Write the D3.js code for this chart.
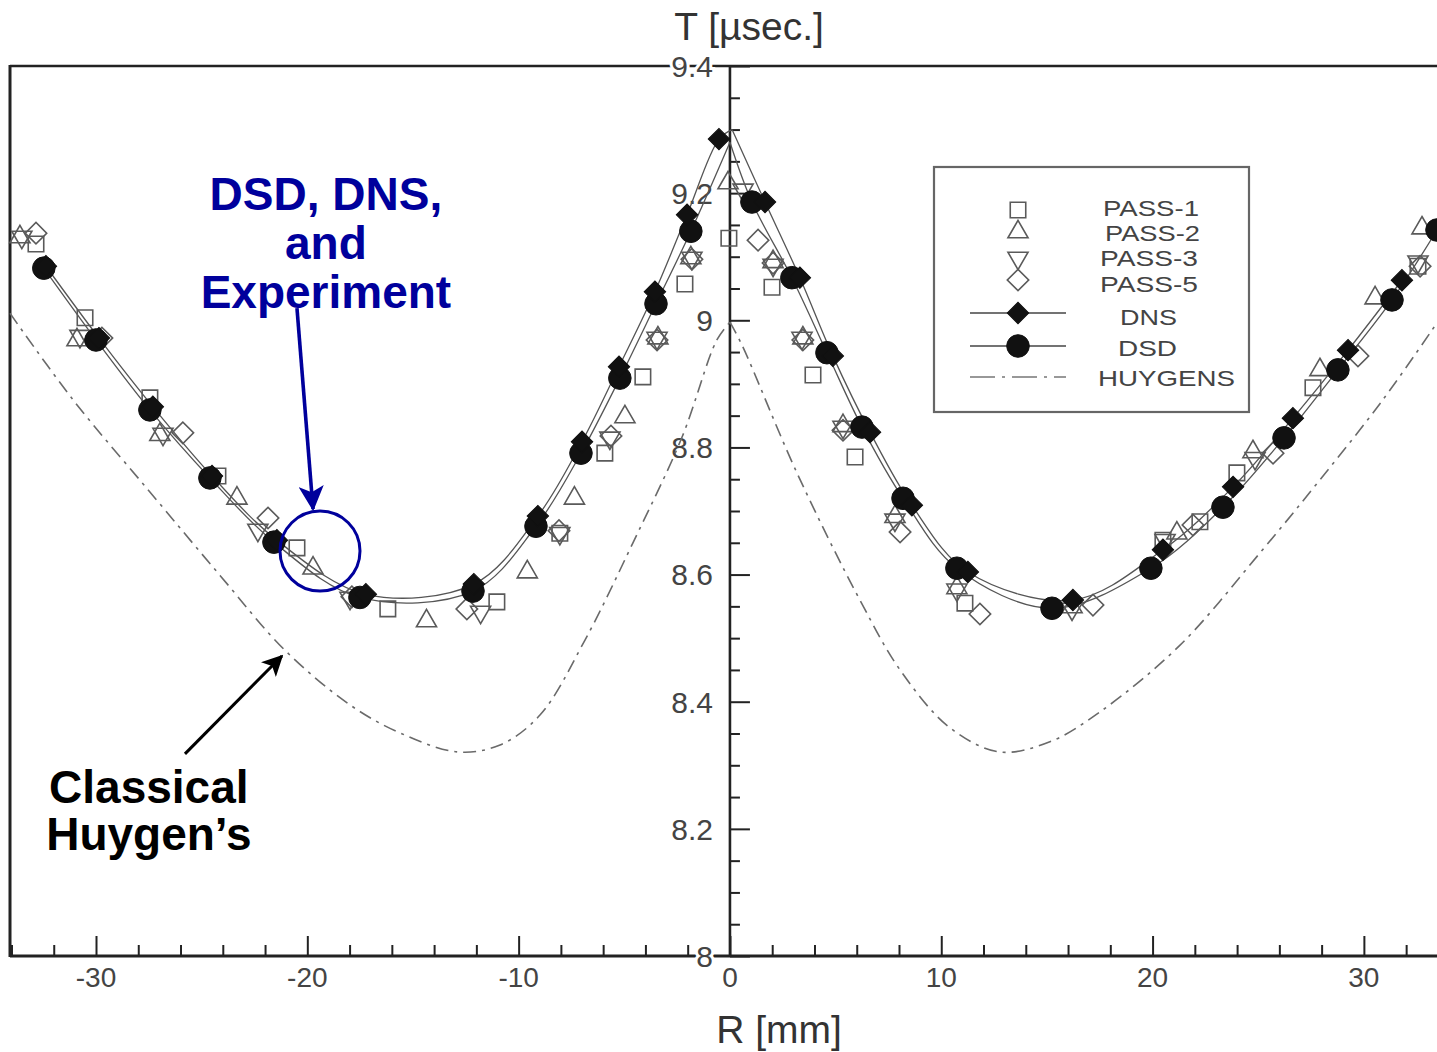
<!DOCTYPE html>
<html>
<head>
<meta charset="utf-8">
<script src="https://cdn.jsdelivr.net/npm/d3@7"></script>
<style>
  html, body { margin: 0; padding: 0; background: #fff; overflow: hidden; }
  svg text { font-family: "Liberation Sans", Arial, Helvetica, sans-serif; }
</style>
</head>
<body>
<svg id="chart" width="1437" height="1052"></svg>
<script>
// Detonation arrival time T [µs] against radial position R [mm]

// Experimental passes (R, T)
const pass1 = [
  [-32.84, 9.120], [-30.52, 9.004], [-27.45, 8.878], [-24.23, 8.755], [-20.49, 8.642],
  [-16.19, 8.546], [-11.03, 8.557], [-8.05, 8.665], [-5.92, 8.791], [-4.12, 8.911],
  [-2.13, 9.057], [-0.05, 9.129],
  [1.99, 9.052], [3.93, 8.914], [5.92, 8.785], [11.12, 8.555], [20.49, 8.654],
  [22.24, 8.683], [23.99, 8.760], [27.59, 8.894], [32.56, 9.085]
];
const pass2 = [
  [-33.60, 9.131], [-30.90, 8.969], [-26.98, 8.820], [-23.33, 8.720], [-19.73, 8.610],
  [-14.36, 8.527], [-9.59, 8.604], [-7.36, 8.720], [-4.97, 8.848], [-3.41, 8.972],
  [-1.85, 9.098], [-0.09, 9.216],
  [2.04, 9.092], [3.45, 8.972], [5.35, 8.834], [7.81, 8.691], [10.74, 8.579],
  [16.19, 8.549], [21.15, 8.665], [24.75, 8.793], [27.92, 8.922], [30.53, 9.035],
  [32.75, 9.145]
];
const pass3 = [
  [-33.51, 9.131], [-30.76, 8.975], [-26.83, 8.821], [-22.34, 8.670], [-17.98, 8.563],
  [-11.80, 8.541], [-8.05, 8.665], [-5.68, 8.815], [-3.45, 8.972], [-1.80, 9.098],
  [0.62, 9.205],
  [2.04, 9.087], [3.41, 8.972], [5.35, 8.832], [7.81, 8.686], [10.74, 8.576],
  [16.19, 8.546], [20.59, 8.654], [24.85, 8.783], [32.56, 9.092]
];
const pass5 = [
  [-32.84, 9.137], [-29.72, 8.972], [-25.89, 8.823], [-21.86, 8.689], [-17.89, 8.565],
  [-12.45, 8.546], [-8.09, 8.669], [-5.63, 8.818], [-3.45, 8.969], [-1.80, 9.096],
  [1.33, 9.126], [2.04, 9.090], [3.45, 8.969], [5.35, 8.827], [8.05, 8.667],
  [11.83, 8.538], [17.18, 8.552], [21.91, 8.678], [25.70, 8.791], [29.72, 8.944],
  [32.66, 9.085]
];

// Simulations (R, T)
const dns = [
  [-32.37, 9.085], [-29.86, 8.972], [-27.31, 8.864], [-24.51, 8.755], [-21.44, 8.654],
  [-17.23, 8.569], [-12.12, 8.585], [-9.09, 8.692], [-7.00, 8.809], [-5.25, 8.927],
  [-3.55, 9.045], [-2.03, 9.166], [-0.52, 9.285],
  [1.66, 9.186], [3.31, 9.067], [4.87, 8.944], [6.63, 8.824], [8.61, 8.709],
  [11.26, 8.604], [16.23, 8.560], [20.49, 8.639], [23.81, 8.738], [26.64, 8.846],
  [29.25, 8.953], [31.80, 9.063]
];
const dnsApex = [0.10, 9.300];
const dsd = [
  [-32.47, 9.082], [-30.00, 8.969], [-27.45, 8.859], [-24.61, 8.752], [-21.58, 8.651],
  [-17.51, 8.564], [-12.16, 8.574], [-9.18, 8.676], [-7.05, 8.791], [-5.21, 8.909],
  [-3.50, 9.026], [-1.85, 9.140],
  [1.04, 9.186], [2.93, 9.067], [4.59, 8.949], [6.25, 8.832], [8.19, 8.720],
  [10.74, 8.610], [15.24, 8.547], [19.92, 8.610], [23.33, 8.706], [26.22, 8.815],
  [28.77, 8.922], [31.33, 9.032], [33.46, 9.142]
];
const dsdApex = [0.00, 9.280];

// Classical Huygens construction (R, T)
const huygens = [
  [-34.07, 9.011], [-31.09, 8.875], [-27.45, 8.730], [-24.14, 8.599], [-21.06, 8.481],
  [-17.98, 8.395], [-15.62, 8.351], [-12.87, 8.321], [-10.88, 8.332], [-8.99, 8.379],
  [-6.86, 8.497], [-4.59, 8.650], [-2.27, 8.816], [-0.62, 8.969], [0.00, 8.997],
  [0.57, 8.961], [3.17, 8.760], [6.15, 8.560], [8.05, 8.450], [10.41, 8.359],
  [12.78, 8.321], [15.14, 8.337], [17.51, 8.384], [21.30, 8.489], [25.08, 8.634],
  [27.92, 8.749], [30.90, 8.875], [33.46, 8.996]
];

// Axes
const xDomain = [-34.07, 33.46];
const yDomain = [8, 9.4];
const xMajor = [-30, -20, -10, 0, 10, 20, 30];
const xLabels = ["-30", "-20", "-10", "0", "10", "20", "30"];
const xMinor = d3.range(-34, 34, 2).filter(v => v % 10 !== 0);
const yMajor = [8, 8.2, 8.4, 8.6, 8.8, 9, 9.2, 9.4];
const yLabels = ["8", "8.2", "8.4", "8.6", "8.8", "9", "9.2", "9.4"];
const yMinor = d3.range(8, 9.4001, 0.05).filter(v => Math.abs(v * 5 - Math.round(v * 5)) > 1e-6);

const legendItems = [
  { key: "pass1", label: "PASS-1" },
  { key: "pass2", label: "PASS-2" },
  { key: "pass3", label: "PASS-3" },
  { key: "pass5", label: "PASS-5" },
  { key: "dns", label: "DNS" },
  { key: "dsd", label: "DSD" },
  { key: "huygens", label: "HUYGENS" }
];

// Annotation anchors in data units
const noteDsd = { R: -19.12, T: 9.1735, lines: ["DSD, DNS,", "and", "Experiment"] };
const noteDsdArrow = { from: [-20.49, 9.019], to: [-19.73, 8.703] };
const noteDsdRing = { R: -19.40, T: 8.637 };
const noteHuy = { R: -27.50, T: 8.241, lines: ["Classical", "Huygen\u2019s"] };
const noteHuyArrow = { from: [-25.79, 8.318], to: [-21.20, 8.472] };

// ---------------------------------------------------------------
const W = 1437, H = 1052;
const svg = d3.select("#chart");
const x = d3.scaleLinear().domain(xDomain).range([10, 1437]);
const y = d3.scaleLinear().domain(yDomain).range([956, 66]);

const INK = "#222";
const BLUE = "#00009c";

// frame
const frame = svg.append("g").attr("stroke", INK).attr("fill", "none");
frame.append("line").attr("x1", x(xDomain[0])).attr("x2", W + 5)
  .attr("y1", y(9.4)).attr("y2", y(9.4)).attr("stroke-width", 2.6);
frame.append("line").attr("x1", x(xDomain[0])).attr("x2", x(xDomain[0]))
  .attr("y1", y(9.4) - 1).attr("y2", y(8) + 1).attr("stroke-width", 3);
frame.append("line").attr("x1", x(xDomain[0])).attr("x2", W + 5)
  .attr("y1", y(8)).attr("y2", y(8)).attr("stroke-width", 3);

// x axis ticks (pointing inward from the bottom)
const xAxisMaj = d3.axisTop(x).tickValues(xMajor).tickSize(20).tickSizeOuter(0).tickFormat("");
const xAxisMin = d3.axisTop(x).tickValues(xMinor).tickSize(11).tickSizeOuter(0).tickFormat("");
[xAxisMaj, xAxisMin].forEach(ax => {
  const g = svg.append("g").attr("transform", `translate(0,${y(8)})`).call(ax);
  g.select(".domain").remove();
  g.selectAll(".tick line").attr("stroke", INK).attr("stroke-width", 2);
});
svg.append("g").selectAll("text").data(xMajor).join("text")
  .attr("x", d => x(d)).attr("y", y(8) + 31)
  .attr("text-anchor", "middle").attr("font-size", 28).attr("fill", "#444")
  .text((d, i) => xLabels[i]);

// y axis at R = 0
const yAxisMaj = d3.axisRight(y).tickValues(yMajor).tickSize(20).tickSizeOuter(0).tickFormat("");
const yAxisMin = d3.axisRight(y).tickValues(yMinor).tickSize(10).tickSizeOuter(0).tickFormat("");
[yAxisMaj, yAxisMin].forEach(ax => {
  const g = svg.append("g").attr("transform", `translate(${x(0)},0)`).call(ax);
  g.select(".domain").remove();
  g.selectAll(".tick line").attr("stroke", INK).attr("stroke-width", 2);
});
svg.append("line").attr("x1", x(0)).attr("x2", x(0)).attr("y1", y(9.4)).attr("y2", y(8))
  .attr("stroke", INK).attr("stroke-width", 2.6);
svg.append("g").selectAll("text").data(yMajor).join("text")
  .attr("x", x(0) - 17).attr("y", d => y(d)).attr("dy", "0.36em")
  .attr("text-anchor", "end").attr("font-size", 30).attr("fill", "#444")
  .attr("stroke", "#fff").attr("stroke-width", 6).attr("paint-order", "stroke")
  .text((d, i) => yLabels[i]);

// axis titles
svg.append("text").attr("x", 749).attr("y", 40).attr("text-anchor", "middle")
  .attr("font-size", 39).attr("fill", "#333").text("T [\u00b5sec.]");
svg.append("text").attr("x", 779).attr("y", 1043).attr("text-anchor", "middle")
  .attr("font-size", 39).attr("fill", "#333").text("R [mm]");

// curves: each side of R = 0 is drawn as its own branch so the apex stays sharp
const lineGen = d3.line().x(d => x(d[0])).y(d => y(d[1])).curve(d3.curveCatmullRom.alpha(0.5));
function branches(pts, apex) {
  const left = pts.filter(p => p[0] < apex[0]).concat([apex]);
  const right = [apex].concat(pts.filter(p => p[0] > apex[0]));
  return [left, right];
}
const plot = svg.append("g");
const huyApex = huygens.find(p => p[0] === 0);
branches(huygens.filter(p => p !== huyApex), huyApex).forEach(b => {
  plot.append("path").attr("d", lineGen(b)).attr("fill", "none")
    .attr("stroke", "#6a6a6a").attr("stroke-width", 1.6).attr("stroke-dasharray", "13,6,3,6");
});
branches(dns, dnsApex).forEach(b => {
  plot.append("path").attr("d", lineGen(b)).attr("fill", "none")
    .attr("stroke", "#555").attr("stroke-width", 1.3);
});
branches(dsd, dsdApex).forEach(b => {
  plot.append("path").attr("d", lineGen(b)).attr("fill", "none")
    .attr("stroke", "#555").attr("stroke-width", 1.3);
});

// marker styles
const markerStyle = {
  pass1: { type: d3.symbolSquare, size: 240, rot: 0, fill: "none" },
  pass2: { type: d3.symbolTriangle, size: 175, rot: 0, fill: "none" },
  pass3: { type: d3.symbolTriangle, size: 175, rot: 180, fill: "none" },
  pass5: { type: d3.symbolSquare, size: 230, rot: 45, fill: "none" },
  dns:   { type: d3.symbolSquare, size: 230, rot: 45, fill: "#111" },
  dsd:   { type: d3.symbolCircle, size: 400, rot: 0, fill: "#111" }
};
function drawMarkers(g, pts, key) {
  const st = markerStyle[key];
  const path = d3.symbol(st.type, st.size)();
  g.selectAll(null).data(pts).join("path")
    .attr("d", path)
    .attr("transform", d => `translate(${x(d[0])},${y(d[1])}) rotate(${st.rot})`)
    .attr("fill", st.fill === "none" ? "none" : st.fill)
    .attr("stroke", st.fill === "none" ? "#5a5a5a" : "#111")
    .attr("stroke-width", st.fill === "none" ? 1.6 : 1);
}
const marks = svg.append("g");
drawMarkers(marks.append("g"), pass1, "pass1");
drawMarkers(marks.append("g"), pass2, "pass2");
drawMarkers(marks.append("g"), pass3, "pass3");
drawMarkers(marks.append("g"), pass5, "pass5");
drawMarkers(marks.append("g"), dsd, "dsd");
drawMarkers(marks.append("g"), dns, "dns");

// legend
const lg = svg.append("g");
lg.append("rect").attr("x", 934).attr("y", 167).attr("width", 315).attr("height", 245)
  .attr("fill", "#fff").attr("stroke", "#666").attr("stroke-width", 2.2);
const legendRows = {
  pass1: { y: 210, ty: 208, tx: 1103, w: 96 }, pass2: { y: 232, ty: 233, tx: 1105, w: 95 },
  pass3: { y: 258, ty: 258, tx: 1100, w: 98 }, pass5: { y: 280, ty: 284, tx: 1100, w: 98 },
  dns: { y: 313, ty: 317, tx: 1120, w: 57 }, dsd: { y: 346, ty: 348, tx: 1118, w: 59 },
  huygens: { y: 377, ty: 378, tx: 1098, w: 137 }
};
legendItems.forEach(item => {
  const row = legendRows[item.key];
  if (item.key === "dns" || item.key === "dsd") {
    lg.append("line").attr("x1", 970).attr("x2", 1066).attr("y1", row.y).attr("y2", row.y)
      .attr("stroke", "#444").attr("stroke-width", 1.4);
  }
  if (item.key === "huygens") {
    lg.append("line").attr("x1", 970).attr("x2", 1066).attr("y1", row.y).attr("y2", row.y)
      .attr("stroke", "#777").attr("stroke-width", 1.6).attr("stroke-dasharray", "25,7,3,7");
  } else {
    const st = markerStyle[item.key];
    lg.append("path").attr("d", d3.symbol(st.type, st.size)())
      .attr("transform", `translate(1018,${row.y}) rotate(${st.rot})`)
      .attr("fill", st.fill === "none" ? "none" : st.fill)
      .attr("stroke", st.fill === "none" ? "#5a5a5a" : "#111")
      .attr("stroke-width", st.fill === "none" ? 1.6 : 1);
  }
  lg.append("text").attr("x", row.tx).attr("y", row.ty).attr("dy", "0.36em")
    .attr("font-size", 22).attr("fill", "#444")
    .attr("textLength", row.w).attr("lengthAdjust", "spacingAndGlyphs")
    .text(item.label);
});

// annotations
const defs = svg.append("defs");
function arrowHead(id, color) {
  defs.append("marker").attr("id", id).attr("viewBox", "0 0 12 12")
    .attr("refX", 11).attr("refY", 6).attr("markerWidth", 7).attr("markerHeight", 7)
    .attr("markerUnits", "strokeWidth").attr("orient", "auto")
    .append("path").attr("d", "M0,0 L12,6 L0,12 L3,6 Z").attr("fill", color);
}
arrowHead("headBlue", BLUE);
arrowHead("headBlack", "#000");

const ann = svg.append("g");
noteDsd.lines.forEach((s, i) => {
  ann.append("text").attr("x", x(noteDsd.R)).attr("y", y(noteDsd.T) + i * 49)
    .attr("text-anchor", "middle").attr("font-size", 46).attr("font-weight", "bold")
    .attr("fill", BLUE).text(s);
});
ann.append("line")
  .attr("x1", x(noteDsdArrow.from[0])).attr("y1", y(noteDsdArrow.from[1]))
  .attr("x2", x(noteDsdArrow.to[0])).attr("y2", y(noteDsdArrow.to[1]))
  .attr("stroke", BLUE).attr("stroke-width", 3.6).attr("marker-end", "url(#headBlue)");
ann.append("circle").attr("cx", x(noteDsdRing.R)).attr("cy", y(noteDsdRing.T)).attr("r", 40)
  .attr("fill", "none").attr("stroke", BLUE).attr("stroke-width", 3);

noteHuy.lines.forEach((s, i) => {
  ann.append("text").attr("x", x(noteHuy.R)).attr("y", y(noteHuy.T) + i * 47)
    .attr("text-anchor", "middle").attr("font-size", 46).attr("font-weight", "bold")
    .attr("fill", "#000").text(s);
});
ann.append("line")
  .attr("x1", x(noteHuyArrow.from[0])).attr("y1", y(noteHuyArrow.from[1]))
  .attr("x2", x(noteHuyArrow.to[0])).attr("y2", y(noteHuyArrow.to[1]))
  .attr("stroke", "#000").attr("stroke-width", 3).attr("marker-end", "url(#headBlack)");
</script>
</body>
</html>
